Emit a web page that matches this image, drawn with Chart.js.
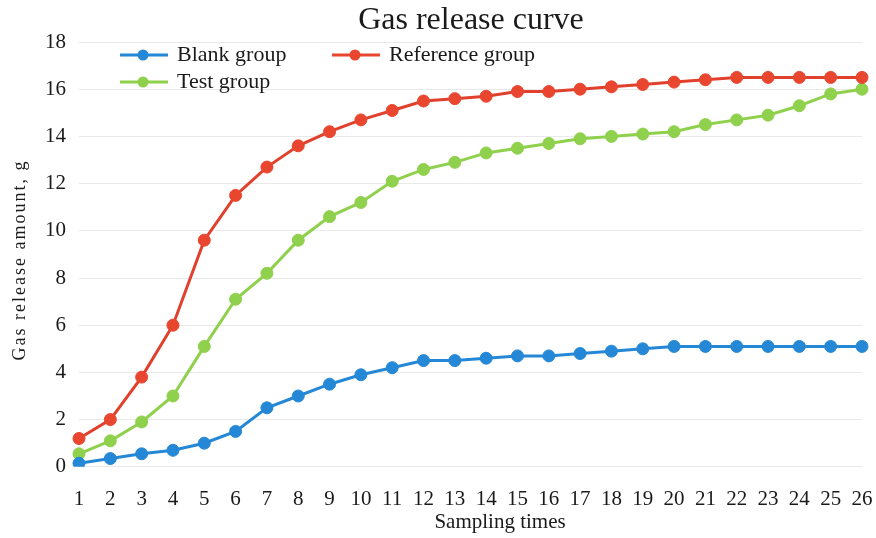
<!DOCTYPE html>
<html>
<head>
<meta charset="utf-8">
<script src="https://cdn.jsdelivr.net/npm/chart.js@4"></script>
<style>
  html, body { margin: 0; padding: 0; background: #fff; }
  #wrap { width: 876px; height: 538px; }
</style>
</head>
<body>
<div id="wrap"><canvas id="c" width="876" height="538"></canvas></div>
<script>
const samplingTimes = ['1','2','3','4','5','6','7','8','9','10','11','12','13','14','15','16','17','18','19','20','21','22','23','24','25','26'];
const blankGroup = [0.15,0.35,0.55,0.7,1.0,1.5,2.5,3.0,3.5,3.9,4.2,4.5,4.5,4.6,4.7,4.7,4.8,4.9,5.0,5.1,5.1,5.1,5.1,5.1,5.1,5.1];
const referenceGroup = [1.2,2.0,3.8,6.0,9.6,11.5,12.7,13.6,14.2,14.7,15.1,15.5,15.6,15.7,15.9,15.9,16.0,16.1,16.2,16.3,16.4,16.5,16.5,16.5,16.5,16.5];
const testGroup = [0.55,1.1,1.9,3.0,5.1,7.1,8.2,9.6,10.6,11.2,12.1,12.6,12.9,13.3,13.5,13.7,13.9,14.0,14.1,14.2,14.5,14.7,14.9,15.3,15.8,16.0];
const yTicks = [0,2,4,6,8,10,12,14,16,18];

const titleText = 'Gas release curve';
const xTitle = 'Sampling times';
const yTitle = 'Gas release amount, g';

const SERIF = '"Liberation Serif", "Times New Roman", serif';
const BLUE = '#2588d6', RED = '#e8462f', GREEN = '#8fd04c';

function ds(label, data, color, line) {
  return {
    label, data,
    borderColor: line || color, backgroundColor: color,
    pointBackgroundColor: color, pointBorderColor: color,
    borderWidth: 3, pointRadius: 6, pointBorderWidth: 1,
    tension: 0, fill: false
  };
}

const legendItems = [
  { label: 'Blank group', color: BLUE, x: 120, y: 55 },
  { label: 'Reference group', color: RED, x: 332, y: 55 },
  { label: 'Test group', color: GREEN, x: 120, y: 82 }
];

const decor = {
  id: 'decor',
  afterDraw(chart) {
    const ctx = chart.ctx;
    ctx.save();
    ctx.fillStyle = '#1a1a1a';
    ctx.font = '32px ' + SERIF;
    ctx.textAlign = 'center';
    ctx.textBaseline = 'middle';
    ctx.fillText(titleText, 471, 21);
    ctx.font = '22px ' + SERIF;
    ctx.textAlign = 'left';
    legendItems.forEach(it => {
      ctx.strokeStyle = it.color; ctx.lineWidth = 3;
      ctx.beginPath(); ctx.moveTo(it.x, it.y); ctx.lineTo(it.x + 48, it.y); ctx.stroke();
      ctx.fillStyle = it.color;
      ctx.beginPath(); ctx.arc(it.x + 23, it.y, 5.5, 0, Math.PI * 2); ctx.fill();
      ctx.fillStyle = '#1a1a1a';
      ctx.fillText(it.label, it.x + 57, it.y);
    });
    ctx.font = '21px ' + SERIF;
    ctx.textAlign = 'center';
    ctx.fillText(xTitle, 500, 522);
    ctx.translate(20, 260);
    ctx.rotate(-Math.PI / 2);
    ctx.font = '18px ' + SERIF;
    try { ctx.letterSpacing = '2px'; } catch (e) {}
    ctx.fillText(yTitle, 0, 0);
    ctx.restore();
  }
};

new Chart(document.getElementById('c'), {
  type: 'line',
  data: {
    labels: samplingTimes,
    datasets: [
      ds('Blank group', blankGroup, BLUE),
      ds('Reference group', referenceGroup, RED, '#e0402c'),
      ds('Test group', testGroup, GREEN)
    ]
  },
  options: {
    responsive: false,
    animation: false,
    devicePixelRatio: 1,
    layout: { padding: { top: 42, right: 14, bottom: 6, left: 0 } },
    plugins: { legend: { display: false }, title: { display: false }, tooltip: { enabled: false } },
    scales: {
      x: {
        offset: false,
        afterFit(scale) { scale.paddingLeft = 0; scale.paddingRight = 0; },
        grid: { display: false, drawTicks: false },
        border: { display: false },
        ticks: { color: '#1a1a1a', font: { family: SERIF, size: 21 }, padding: 20, maxRotation: 0, autoSkip: false }
      },
      y: {
        min: 0, max: 18,
        afterFit(scale) { scale.width = 79; },
        afterBuildTicks(scale) { scale.ticks = yTicks.map(v => ({ value: v })); },
        grid: { color: '#e9e9e9', lineWidth: 1, drawTicks: false },
        border: { display: false },
        ticks: { color: '#1a1a1a', font: { family: SERIF, size: 21 }, padding: 13 }
      }
    }
  },
  plugins: [decor]
});
</script>
</body>
</html>
